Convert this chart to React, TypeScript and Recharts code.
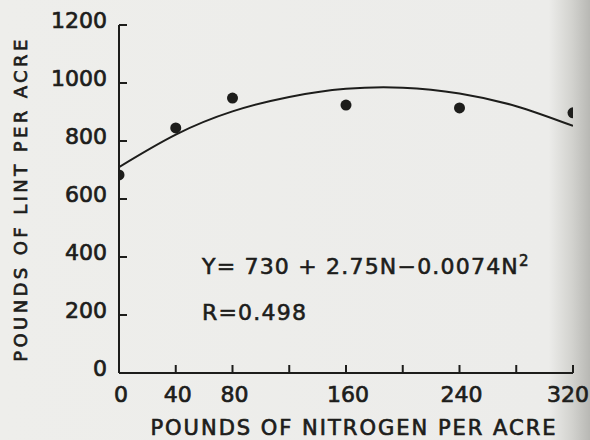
import { ComposedChart, Line, Scatter, XAxis, YAxis } from "recharts"

// observed yields (dots)
const nitrogen = [0, 40, 80, 160, 240, 320]
const lint = [683, 845, 948, 924, 914, 897]

// fitted curve
const curveN = [0, 40, 80, 120, 160, 200, 240, 280, 320]
const curveLint = [710, 822, 902, 952, 980, 984, 964, 920, 852]

const xTicks = [0, 40, 80, 120, 160, 200, 240, 280, 320]
const xLabelled = [0, 40, 80, 160, 240, 320]
const yTicks = [0, 200, 400, 600, 800, 1000, 1200]

const INK = "#1d1d1b"
const FONT = "'DejaVu Sans', sans-serif"
const THICK = { stroke: INK, strokeWidth: 0.7 }

const points = nitrogen.map((n, i) => ({ n, lint: lint[i] }))
const curve = curveN.map((n, i) => ({ n, fit: curveLint[i] }))

const Y_MARGIN = 13
const X_MARGIN = 21

function YTick({ x, y, payload }: any) {
  const ax = x + Y_MARGIN
  return (
    <g>
      <line x1={ax} x2={ax + 8} y1={y} y2={y} stroke={INK} strokeWidth={2} />
      <text x={x + 1} y={y - 5} textAnchor="end" dominantBaseline="central"
        fontFamily={FONT} fontSize={22} fill={INK} {...THICK}>
        {payload.value}
      </text>
    </g>
  )
}

function XTick({ x, y, payload }: any) {
  const ay = y - X_MARGIN
  const last = payload.value === 320
  return (
    <g>
      <line x1={x} x2={x} y1={ay} y2={ay - 8} stroke={INK} strokeWidth={2} />
      {xLabelled.includes(payload.value) && (
        <text x={last ? x + 16 : x + 2} y={y} textAnchor={last ? "end" : "middle"}
          dominantBaseline="central" fontFamily={FONT} fontSize={22} fill={INK} {...THICK}>
          {payload.value}
        </text>
      )}
    </g>
  )
}

function Dot({ cx, cy }: any) {
  return <circle cx={cx} cy={cy} r={5.5} fill={INK} />
}

function XTitle({ viewBox }: any) {
  const { x, y, width } = viewBox
  return (
    <text x={x + width / 2 + 8} y={y + 55} textAnchor="middle" dominantBaseline="central"
      fontFamily={FONT} fontSize={21} letterSpacing={2} fill={INK} {...THICK}>
      POUNDS OF NITROGEN PER ACRE
    </text>
  )
}

const noteStyle = {
  position: "absolute" as const, left: 202, fontFamily: FONT, fontSize: 22, color: INK,
  whiteSpace: "nowrap" as const, lineHeight: "28px", letterSpacing: 1.2,
  WebkitTextStroke: "0.6px " + INK,
}

export default function App() {
  return (
    <div style={{
      position: "fixed", left: 0, top: 0, width: 590, height: 440, overflow: "hidden",
      background: "linear-gradient(to right, #eeeeeb 0%, #ececea 93%, #d2d2ce 97%, #b8b8b4 100%)",
    }}>
      <ComposedChart width={590} height={440} margin={{ top: 25, right: 17, bottom: 27, left: 59 }}>
        <XAxis type="number" dataKey="n" domain={[0, 320]} ticks={xTicks} allowDataOverflow
          height={40} tickSize={0} tickMargin={X_MARGIN} tick={<XTick />}
          axisLine={{ stroke: INK, strokeWidth: 2 }} tickLine={false}
          label={<XTitle />} />
        <YAxis type="number" domain={[0, 1200]} ticks={yTicks} width={60}
          tickSize={0} tickMargin={Y_MARGIN} tick={<YTick />}
          axisLine={{ stroke: INK, strokeWidth: 2 }} tickLine={false}
          label={{
            value: "POUNDS OF LINT PER ACRE", angle: -90, position: "insideLeft", offset: -38,
            style: { fontFamily: FONT, fontSize: 18, letterSpacing: 3.4, fill: INK, textAnchor: "middle", ...THICK },
          }} />
        <Line data={curve} dataKey="fit" type="natural" stroke={INK} strokeWidth={2}
          dot={false} isAnimationActive={false} />
        <Scatter data={points} dataKey="lint" fill={INK} shape={<Dot />} isAnimationActive={false} />
      </ComposedChart>
      <div style={{ ...noteStyle, top: 247 }}>
        Y= 730 + 2.75N−0.0074N<sup style={{ fontSize: 15 }}>2</sup>
      </div>
      <div style={{ ...noteStyle, top: 299 }}>
        R=0.498
      </div>
    </div>
  )
}
